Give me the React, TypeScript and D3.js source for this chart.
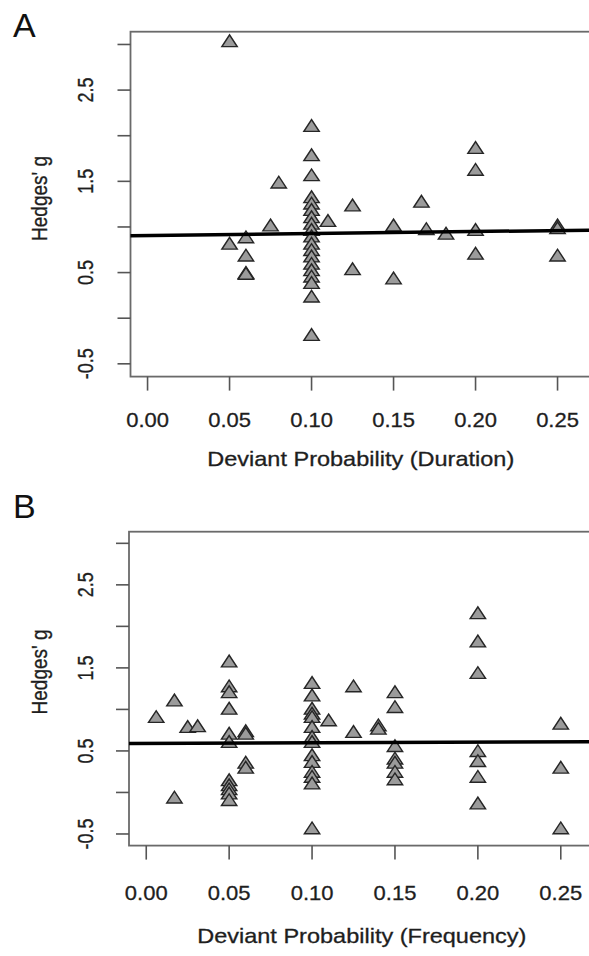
import React, { useEffect, useRef } from 'react';
import * as d3 from 'd3';

// Panel A: deviant probability (duration) vs Hedges' g
const durX = [
  0.05, 0.05,
  0.06, 0.06, 0.06, 0.06,
  0.075, 0.08,
  0.1, 0.1, 0.1, 0.1, 0.1, 0.1, 0.1, 0.1, 0.1, 0.1, 0.1, 0.1, 0.1, 0.1, 0.1, 0.1, 0.1, 0.1, 0.1,
  0.11, 0.125, 0.125, 0.15, 0.15, 0.167, 0.17, 0.182,
  0.2, 0.2, 0.2, 0.2,
  0.25, 0.25, 0.25,
];
const durG = [
  3.02, 0.8,
  0.87, 0.67, 0.48, 0.47,
  1.0, 1.47,
  2.09, 1.77, 1.55, 1.31, 1.24, 1.17, 1.09, 1.02, 0.95, 0.88, 0.8, 0.73, 0.66, 0.58, 0.51, 0.44, 0.37, 0.22, -0.2,
  1.05, 1.22, 0.52, 1.0, 0.42, 1.26, 0.96, 0.91,
  1.85, 1.61, 0.95, 0.69,
  1.0, 0.97, 0.67,
];

// Panel B: deviant probability (frequency) vs Hedges' g
const freqX = [
  0.006, 0.017, 0.017, 0.025, 0.031,
  0.05, 0.05, 0.05, 0.05, 0.05, 0.05, 0.05, 0.05, 0.05, 0.05, 0.05,
  0.06, 0.06, 0.06, 0.06,
  0.1, 0.1, 0.1, 0.1, 0.1, 0.1, 0.1, 0.1, 0.1, 0.1, 0.1, 0.1, 0.1, 0.1,
  0.11, 0.125, 0.125, 0.14, 0.14,
  0.15, 0.15, 0.15, 0.15, 0.15, 0.15, 0.15,
  0.2, 0.2, 0.2, 0.2, 0.2, 0.2, 0.2,
  0.25, 0.25, 0.25,
];
const freqG = [
  0.89, 1.09, -0.08, 0.77, 0.78,
  1.56, 1.26, 1.19, 0.99, 0.69, 0.59, 0.13, 0.07, 0.02, -0.03, -0.11,
  0.72, 0.69, 0.34, 0.28,
  1.3, 1.15, 0.99, 0.93, 0.89, 0.77, 0.65, 0.59, 0.43, 0.35, 0.23, 0.17, 0.09, -0.45,
  0.85, 1.26, 0.71, 0.79, 0.75,
  1.19, 1.01, 0.54, 0.39, 0.34, 0.23, 0.14,
  2.14, 1.8, 1.42, 0.48, 0.36, 0.17, -0.15,
  0.81, 0.28, -0.45,
];

// fitted meta-regression lines [intercept, slope]
const durFit = [0.906, 0.22];
const freqFit = [0.591, 0.07];

const xTicks = [0, 0.05, 0.1, 0.15, 0.2, 0.25];
const yTicks = [-0.5, 0, 0.5, 1, 1.5, 2, 2.5, 3];
const yLabelTicks = [-0.5, 0.5, 1.5, 2.5];

const xLim = [-0.0104, 0.2704];
const yLim = [-0.64, 3.14];

const font = '"Liberation Sans", Arial, sans-serif';
const ink = '#1e1e1e';

const panels = [
  {
    tag: 'A', xs: durX, ys: durG, fit: durFit, title: 'Deviant Probability (Duration)',
    left: 130.5, right: 591, top: 31.7, bottom: 376.6,
    tagY: 37, tickLabY: 427, titleY: 465.5, ylabY: 198.5,
  },
  {
    tag: 'B', xs: freqX, ys: freqG, fit: freqFit, title: 'Deviant Probability (Frequency)',
    left: 129, right: 594.6, top: 531.7, bottom: 845.6,
    tagY: 518, tickLabY: 900, titleY: 942.5, ylabY: 672,
  },
];

const App = () => {
  const svgRef = useRef();

  useEffect(() => {
    const svg = d3.select(svgRef.current);
    svg.selectAll('*').remove();

    const tri = d3.symbol(d3.symbolTriangle, 88)();

    panels.forEach(p => {
      const g = svg.append('g');
      const x = d3.scaleLinear().domain(xLim).range([p.left, p.right]);
      const y = d3.scaleLinear().domain(yLim).range([p.bottom, p.top]);

      // box
      g.append('rect')
        .attr('x', p.left).attr('y', p.top)
        .attr('width', p.right - p.left).attr('height', p.bottom - p.top)
        .attr('fill', 'none').attr('stroke', '#6a6a6a').attr('stroke-width', 1.8);

      // y ticks
      g.selectAll('.yt').data(yTicks).enter().append('line')
        .attr('x1', p.left - 13).attr('x2', p.left)
        .attr('y1', d => y(d)).attr('y2', d => y(d))
        .attr('stroke', '#555').attr('stroke-width', 1.6);

      g.selectAll('.yl').data(yLabelTicks).enter().append('text')
        .attr('transform', d => `translate(93,${y(d)}) scale(1.2,1) rotate(-90)`)
        .attr('text-anchor', 'middle')
        .attr('font-family', font).attr('font-size', 18)
        .attr('fill', ink).attr('stroke', ink).attr('stroke-width', 0.3)
        .text(d => d.toFixed(1));

      // x ticks
      g.selectAll('.xt').data(xTicks).enter().append('line')
        .attr('x1', d => x(d)).attr('x2', d => x(d))
        .attr('y1', p.bottom).attr('y2', p.bottom + 14)
        .attr('stroke', '#555').attr('stroke-width', 1.6);

      g.selectAll('.xl').data(xTicks).enter().append('text')
        .attr('transform', d => `translate(${x(d)},${p.tickLabY}) scale(1.1,1)`)
        .attr('text-anchor', 'middle')
        .attr('font-family', font).attr('font-size', 20)
        .attr('fill', ink).attr('stroke', ink).attr('stroke-width', 0.3)
        .text(d => d.toFixed(2));

      // axis titles
      g.append('text')
        .attr('transform', `translate(${(p.left + p.right) / 2},${p.titleY}) scale(1.12,1)`)
        .attr('text-anchor', 'middle')
        .attr('font-family', font).attr('font-size', 21)
        .attr('fill', ink).attr('stroke', ink).attr('stroke-width', 0.3)
        .text(p.title);

      g.append('text')
        .attr('transform', `translate(46.5,${p.ylabY}) scale(1.2,1) rotate(-90)`)
        .attr('text-anchor', 'middle')
        .attr('font-family', font).attr('font-size', 19)
        .attr('fill', ink).attr('stroke', ink).attr('stroke-width', 0.3)
        .text("Hedges' g");

      g.append('text')
        .attr('x', 13).attr('y', p.tagY)
        .attr('font-family', font).attr('font-size', 34).attr('fill', '#111')
        .text(p.tag);

      // points
      g.selectAll('.pt').data(p.xs.map((v, i) => [v, p.ys[i]])).enter().append('path')
        .attr('d', tri)
        .attr('transform', d => `translate(${x(d[0])},${y(d[1])}) scale(1.08,0.95)`)
        .attr('fill', '#9b9b9b').attr('stroke', '#262626').attr('stroke-width', 1.4);

      // regression line
      const line = d3.line().x(d => x(d)).y(d => y(p.fit[0] + p.fit[1] * d));
      g.append('path')
        .attr('d', line(xLim))
        .attr('fill', 'none').attr('stroke', '#000').attr('stroke-width', 3.5);
    });
  }, []);

  return (
    <svg ref={svgRef} width={589} height={956}
      style={{ position: 'absolute', left: 0, top: 0, background: '#fff' }} />
  );
};

export default App;
